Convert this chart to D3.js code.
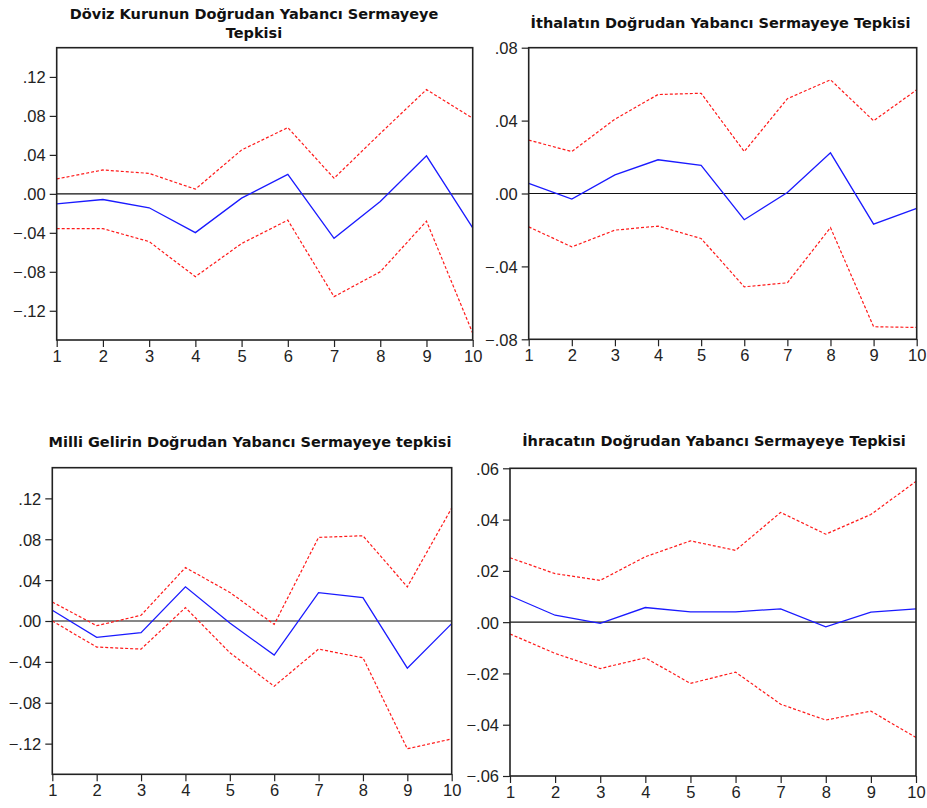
<!DOCTYPE html>
<html>
<head>
<meta charset="utf-8">
<script src="https://cdn.jsdelivr.net/npm/d3@7"></script>
<style>
  html, body { margin: 0; padding: 0; background: #fff; }
  svg { display: block; }
  .tick text { font-family: Arial, "Liberation Sans", sans-serif; font-size: 16.5px; fill: #222; }
  .title { font-family: "DejaVu Sans", sans-serif; font-weight: bold; font-size: 14.5px; fill: #111; }
</style>
</head>
<body>
<svg id="chart" width="927" height="808"></svg>
<script>
// Impulse-response horizons (periods)
const periods = [1, 2, 3, 4, 5, 6, 7, 8, 9, 10];

// Döviz kuru
const dovizResponse = [-0.0102, -0.0058, -0.0143, -0.0398, -0.0044, 0.0200, -0.0456, -0.0078, 0.0390, -0.0350];
const dovizUpper    = [0.0153, 0.0245, 0.0210, 0.0048, 0.0450, 0.0680, 0.0160, 0.0620, 0.1070, 0.0776];
const dovizLower    = [-0.0357, -0.0357, -0.0490, -0.0850, -0.0510, -0.0270, -0.1055, -0.0800, -0.0280, -0.1430];

// İthalat
const ithalatResponse = [0.0055, -0.0031, 0.0102, 0.0185, 0.0155, -0.0144, 0.0005, 0.0223, -0.0168, -0.0082];
const ithalatUpper    = [0.0293, 0.0230, 0.0408, 0.0543, 0.0550, 0.0230, 0.0520, 0.0624, 0.0399, 0.0569];
const ithalatLower    = [-0.0183, -0.0293, -0.0201, -0.0179, -0.0247, -0.0512, -0.0490, -0.0187, -0.0731, -0.0735];

// Milli gelir
const gelirResponse = [0.0105, -0.0160, -0.0114, 0.0334, -0.0020, -0.0334, 0.0278, 0.0229, -0.0461, -0.0026];
const gelirUpper    = [0.0186, -0.0046, 0.0056, 0.0523, 0.0280, -0.0033, 0.0818, 0.0834, 0.0334, 0.1105];
const gelirLower    = [0.0000, -0.0255, -0.0275, 0.0131, -0.0310, -0.0638, -0.0275, -0.0360, -0.1250, -0.1154];

// İhracat
const ihracatResponse = [0.0103, 0.0027, -0.0005, 0.0057, 0.0040, 0.0040, 0.0052, -0.0018, 0.0039, 0.0052];
const ihracatUpper    = [0.0251, 0.0189, 0.0163, 0.0255, 0.0317, 0.0280, 0.0428, 0.0343, 0.0420, 0.0549];
const ihracatLower    = [-0.0046, -0.0122, -0.0181, -0.0139, -0.0239, -0.0195, -0.0320, -0.0382, -0.0347, -0.0450];

// Y-axis tick values per panel
const dovizTicks   = [-0.12, -0.08, -0.04, 0, 0.04, 0.08, 0.12];
const ithalatTicks = [-0.08, -0.04, 0, 0.04, 0.08];
const gelirTicks   = [-0.12, -0.08, -0.04, 0, 0.04, 0.08, 0.12];
const ihracatTicks = [-0.06, -0.04, -0.02, 0, 0.02, 0.04, 0.06];

const panels = [
  { title: ["Döviz Kurunun Doğrudan Yabancı Sermayeye", "Tepkisi"],
    mid: dovizResponse, up: dovizUpper, lo: dovizLower, ticks: dovizTicks, domain: [-0.15, 0.15],
    box: { left: 56.7, right: 472.7, top: 47.7, bottom: 340 }, titleX: 254, titleY: 18.5 },
  { title: ["İthalatın Doğrudan Yabancı Sermayeye Tepkisi"],
    mid: ithalatResponse, up: ithalatUpper, lo: ithalatLower, ticks: ithalatTicks, domain: [-0.08, 0.08],
    box: { left: 528.7, right: 916.7, top: 47.7, bottom: 339.3 }, titleX: 720.5, titleY: 27.5 },
  { title: ["Milli Gelirin Doğrudan Yabancı Sermayeye tepkisi"],
    mid: gelirResponse, up: gelirUpper, lo: gelirLower, ticks: gelirTicks, domain: [-0.15, 0.15],
    box: { left: 52.3, right: 451.7, top: 467.7, bottom: 774.3 }, titleX: 250, titleY: 447 },
  { title: ["İhracatın Doğrudan Yabancı Sermayeye Tepkisi"],
    mid: ihracatResponse, up: ihracatUpper, lo: ihracatLower, ticks: ihracatTicks, domain: [-0.06, 0.06],
    box: { left: 510, right: 916, top: 468.3, bottom: 776 }, titleX: 714, titleY: 446 }
];

const svg = d3.select("#chart");

// EViews-style tick labels: ".04", "-.08", ".00"
const fmt = v => d3.format(".2f")(v).replace("0.", ".");

panels.forEach(p => {
  const b = p.box;
  const x = d3.scaleLinear().domain([1, 10]).range([b.left, b.right]);
  const y = d3.scaleLinear().domain(p.domain).range([b.bottom, b.top]);
  const g = svg.append("g");

  // Title
  p.title.forEach((line, i) => {
    g.append("text").attr("class", "title")
      .attr("x", p.titleX).attr("y", p.titleY + i * 19)
      .attr("text-anchor", "middle").text(line);
  });

  // Axes
  const yAxis = d3.axisLeft(y).tickValues(p.ticks).tickFormat(fmt).tickSize(7).tickPadding(4).tickSizeOuter(0);
  const xAxis = d3.axisBottom(x).tickValues(periods).tickFormat(d3.format("d")).tickSize(7).tickPadding(3).tickSizeOuter(0);

  const ya = g.append("g").attr("transform", `translate(${b.left},0)`).call(yAxis);
  const xa = g.append("g").attr("transform", `translate(0,${b.bottom})`).call(xAxis);
  [ya, xa].forEach(a => {
    a.select(".domain").remove();
    a.selectAll(".tick line").attr("stroke", "#222").attr("stroke-width", 1.2);
  });
  ya.selectAll(".tick text").attr("dy", "0.36em");

  // Zero line
  g.append("line")
    .attr("x1", b.left).attr("x2", b.right)
    .attr("y1", y(0)).attr("y2", y(0))
    .attr("stroke", "#111").attr("stroke-width", 1.2);

  const line = d3.line().x((d, i) => x(periods[i])).y(d => y(d));

  g.append("path").datum(p.up).attr("d", line)
    .attr("fill", "none").attr("stroke", "#ff1a1a").attr("stroke-width", 1.2)
    .attr("stroke-dasharray", "3,2");
  g.append("path").datum(p.lo).attr("d", line)
    .attr("fill", "none").attr("stroke", "#ff1a1a").attr("stroke-width", 1.2)
    .attr("stroke-dasharray", "3,2");
  g.append("path").datum(p.mid).attr("d", line)
    .attr("fill", "none").attr("stroke", "#1a1aff").attr("stroke-width", 1.3);

  // Frame
  g.append("rect")
    .attr("x", b.left).attr("y", b.top)
    .attr("width", b.right - b.left).attr("height", b.bottom - b.top)
    .attr("fill", "none").attr("stroke", "#222").attr("stroke-width", 1.6);
});
</script>
</body>
</html>
